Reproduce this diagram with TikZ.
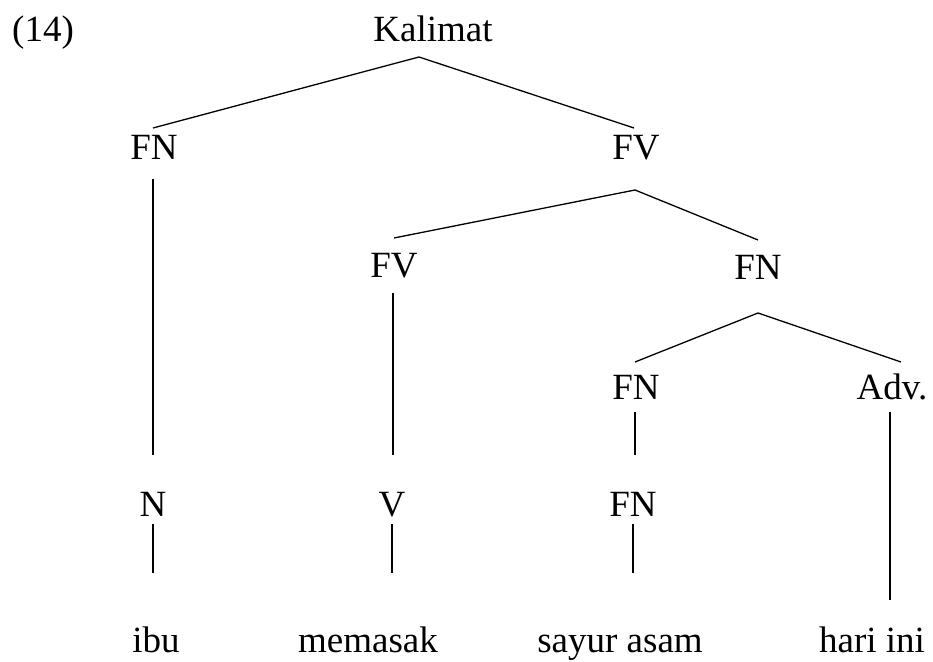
\documentclass[tikz,border=0pt]{standalone}
\usepackage{fontspec}
\setmainfont{Liberation Serif}
\usetikzlibrary{positioning}

\begin{document}
\begin{tikzpicture}[
  x=1pt, y=1pt,
  every node/.style={font=\fontsize{37}{42}\selectfont, inner sep=0pt, anchor=base},
  branch/.style={line width=1.3pt}
]
\useasboundingbox (0,0) rectangle (933,661);

% labels
\node [anchor=base west] (ex) at (12,619) {(14)};
\node (kal) at (433,619) {Kalimat};
\node (fn1) at (154,501) {FN};
\node (fv1) at (636,501) {FV};
\node (fv2) at (394,383) {FV};
\node (fn2) at (758,381) {FN};
\node (fn3) at (636,261) {FN};
\node (adv) at (892,261) {Adv.};
\node (n)   at (153,144) {N};
\node (v)   at (392,144) {V};
\node (fn4) at (633,144) {FN};

% words
\node (w1) at (156,9) {ibu};
\node (w2) at (368,9) {memasak};
\node (w3) at (620,9) {sayur asam};
\node (w4) at (872,9) {hari ini};

% branch points
\coordinate (kal-dn) at (419,604);
\coordinate (fn1-up) at (153,533);
\coordinate (fv1-up) at (634,533);
\coordinate (fv1-dn) at (635,471);
\coordinate (fv2-up) at (394,423);
\coordinate (fn2-up) at (758,421);
\coordinate (fn2-dn) at (758,348);
\coordinate (fn3-up) at (635,299);
\coordinate (adv-up) at (901,299);

\draw [branch] (fn1-up) -- (kal-dn) -- (fv1-up);
\draw [branch] (fv2-up) -- (fv1-dn) -- (fn2-up);
\draw [branch] (fn3-up) -- (fn2-dn) -- (adv-up);

% unary branches
\coordinate (fn1-dn) at (153,482);
\coordinate (n-up)   at (153,206);
\coordinate (fv2-dn) at (393,368);
\coordinate (v-up)   at (393,206);
\coordinate (fn3-dn) at (635,249);
\coordinate (fn4-up) at (635,206);
\coordinate (adv-dn) at (890,249);
\coordinate (w4-up)  at (890,61);
\draw [branch] (fn1-dn) -- (n-up);
\draw [branch] (fv2-dn) -- (v-up);
\draw [branch] (fn3-dn) -- (fn4-up);
\draw [branch] (adv-dn) -- (w4-up);

\foreach \a/\b in {n/w1, v/w2, fn4/w3} {
  \draw [branch] ([yshift=-7]\a.base) -- ([yshift=-56]\a.base);
}

\end{tikzpicture}
\end{document}
